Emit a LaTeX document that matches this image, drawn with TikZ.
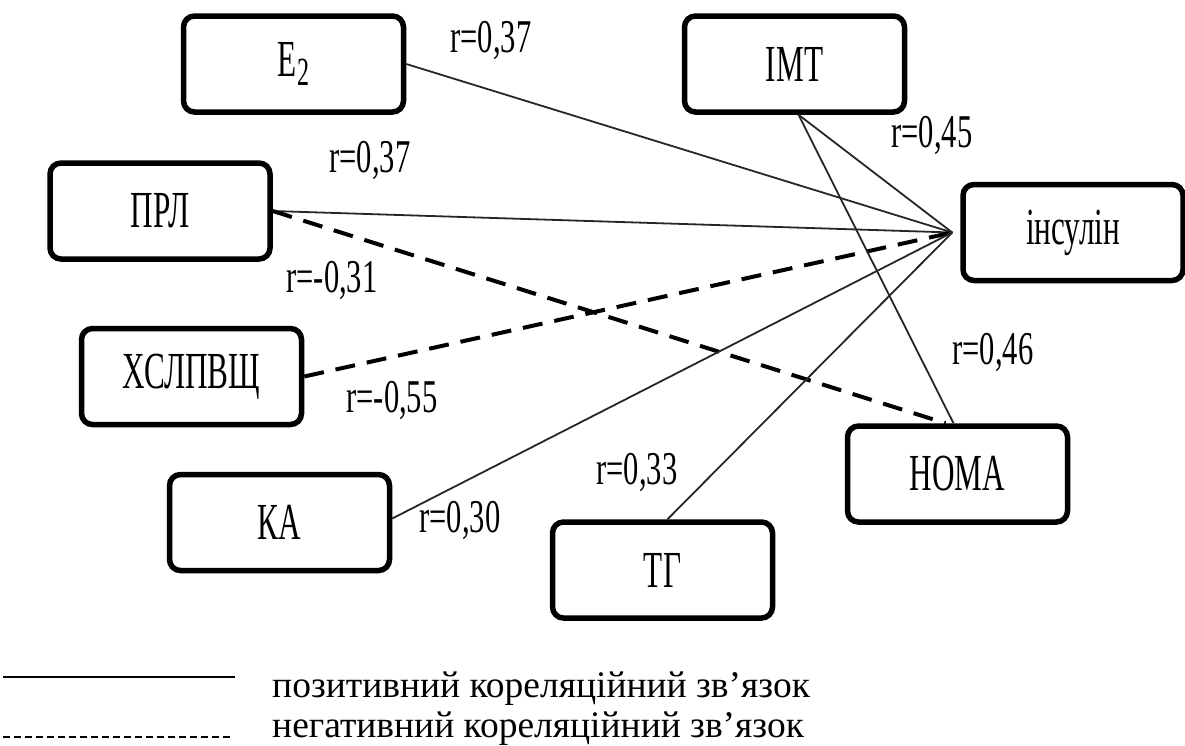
\documentclass[tikz,border=0pt]{standalone}
\usepackage{fontspec}
\setmainfont{Liberation Serif}
\newfontfamily\boxfont[FakeStretch=0.6]{Liberation Serif}
\newfontfamily\rfont[FakeStretch=0.65]{Liberation Serif}

\begin{document}
\begin{tikzpicture}[x=1pt,y=-1pt,box/.style={draw=black,line width=5.5pt,rounded corners=11pt,fill=white,minimum width=220pt,minimum height=96pt,inner sep=0pt,font=\boxfont\fontsize{52}{56}\selectfont},rval/.style={inner sep=0pt,font=\rfont\fontsize{47}{50}\selectfont},posline/.style={line width=1.8pt,draw=black!85},negline/.style={line width=4pt,draw=black,dash pattern=on 20pt off 12pt},legtext/.style={anchor=base west,inner sep=0pt,font=\fontsize{37.5}{40}\selectfont}]
\useasboundingbox (0,0) rectangle (1185,745);
\node[box] (e2) at (293.5,64) {E\raisebox{-9pt}{\fontsize{40}{40}\selectfont 2}};
\node[box] (imt) at (794.5,64) {ІМТ};
\node[box] (ins) at (1073,232.5) {інсулін};
\node[box] (prl) at (160,211) {ПРЛ};
\node[box] (hs) at (191.5,376.5) {ХСЛПВЩ};
\node[box] (ka) at (279.5,522.5) {КА};
\node[box] (tg) at (662.5,570) {ТГ};
\node[box] (homa) at (957.5,474) {HOMA};
\coordinate (hub) at ([xshift=-8pt]ins.west);
\coordinate (hometop) at ([xshift=-12pt]homa.north);
\draw[posline] (e2.east) -- (hub);
\draw[posline] (prl.east) -- (hub);
\draw[negline] (prl.east) -- (hometop);
\draw[negline] (hs.east) -- (hub);
\draw[posline] ([yshift=4pt]ka.east) -- (hub);
\draw[posline] ([xshift=5pt]tg.north) -- (hub);
\draw[posline] ([xshift=4pt]imt.south) -- (hub);
\draw[posline] ([xshift=4pt]imt.south) -- ([xshift=-4pt]homa.north);
\node[rval] (r1) at (491,40) {r=0,37};
\node[rval] (r2) at (370,160) {r=0,37};
\node[rval] (r3) at (332,280) {r=-0,31};
\node[rval] (r4) at (392,400) {r=-0,55};
\node[rval] (r5) at (460,520) {r=0,30};
\node[rval] (r6) at (637,472) {r=0,33};
\node[rval] (r7) at (993,352) {r=0,46};
\node[rval] (r8) at (932,135) {r=0,45};
% legend
\coordinate (l1a) at (3,677);
\coordinate (l1b) at (235,677);
\coordinate (l2a) at (3,737);
\coordinate (l2b) at (233,737);
\draw[line width=2.5pt] (l1a) -- (l1b);
\draw[line width=2.2pt,dash pattern=on 7pt off 4pt] (l2a) -- (l2b);
\node[legtext] (t1) at (272,697) {позитивний кореляційний зв’язок};
\node[legtext] (t2) at (272,737) {негативний кореляційний зв’язок};
\end{tikzpicture}
\end{document}
